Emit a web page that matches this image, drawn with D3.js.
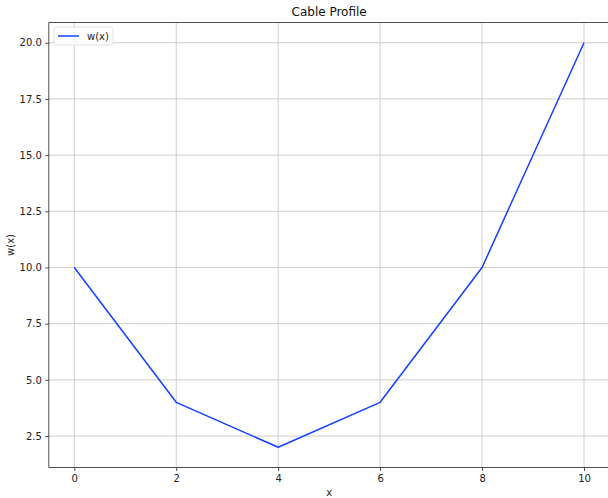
<!DOCTYPE html>
<html>
<head>
<meta charset="utf-8">
<script src="https://cdn.jsdelivr.net/npm/d3@7"></script>
<style>
  html, body { margin: 0; padding: 0; background: #fff; }
  svg { display: block; font-family: "DejaVu Sans", sans-serif; }
</style>
</head>
<body>
<svg id="chart" width="608" height="498"></svg>
<script>
// Cable deflection samples
const xValues = [0, 2, 4, 6, 8, 10];
const wValues = [10, 4, 2, 4, 10, 20];
const xTicks = [0, 2, 4, 6, 8, 10];
const yTicks = [2.5, 5.0, 7.5, 10.0, 12.5, 15.0, 17.5, 20.0];
const seriesName = "w(x)";

const svg = d3.select("#chart");
const margin = { left: 48.8, top: 22.5, right: 609.5, bottom: 467.5 };

const x = d3.scaleLinear().domain([-0.5, 10.5]).range([margin.left, margin.right]);
const y = d3.scaleLinear().domain([1.1, 20.9]).range([margin.bottom, margin.top]);

// clip region for plot contents
svg.append("defs").append("clipPath").attr("id", "plotClip")
  .append("rect")
  .attr("x", margin.left).attr("y", margin.top)
  .attr("width", margin.right - margin.left).attr("height", margin.bottom - margin.top);

const grid = svg.append("g").attr("clip-path", "url(#plotClip)");
grid.selectAll("line.vx").data(xTicks).join("line")
  .attr("x1", d => x(d)).attr("x2", d => x(d))
  .attr("y1", margin.top).attr("y2", margin.bottom)
  .attr("stroke", "#cfcfcf").attr("stroke-width", 1);
grid.selectAll("line.hy").data(yTicks).join("line")
  .attr("x1", margin.left).attr("x2", margin.right)
  .attr("y1", d => y(d)).attr("y2", d => y(d))
  .attr("stroke", "#cfcfcf").attr("stroke-width", 1);

// series line
const line = d3.line().x((d, i) => x(xValues[i])).y(d => y(d));
svg.append("path")
  .datum(wValues)
  .attr("clip-path", "url(#plotClip)")
  .attr("d", line)
  .attr("fill", "none")
  .attr("stroke", "#1440ff")
  .attr("stroke-width", 1.5)
  .attr("stroke-linejoin", "round");

// axes
const xAxis = d3.axisBottom(x).tickValues(xTicks).tickFormat(d3.format("d")).tickSize(3.5).tickPadding(3.5);
const yAxis = d3.axisLeft(y).tickValues(yTicks).tickFormat(d3.format(".1f")).tickSize(3.5).tickPadding(3.5);

const gx = svg.append("g").attr("transform", `translate(0,${margin.bottom})`).call(xAxis);
const gy = svg.append("g").attr("transform", `translate(${margin.left},0)`).call(yAxis);
[gx, gy].forEach(g => {
  g.select(".domain").remove();
  g.selectAll(".tick line").attr("stroke", "#222").attr("stroke-width", 0.8);
  g.selectAll(".tick text").attr("fill", "#222").style("font-size", "10px")
    .style("font-family", "'DejaVu Sans', sans-serif");
});

// spines
const spines = svg.append("g").attr("stroke", "#222").attr("stroke-width", 0.8).attr("fill", "none");
spines.append("line").attr("x1", margin.left).attr("x2", margin.left).attr("y1", margin.top).attr("y2", margin.bottom);
spines.append("line").attr("x1", margin.left).attr("x2", margin.right).attr("y1", margin.bottom).attr("y2", margin.bottom);
spines.append("line").attr("x1", margin.left).attr("x2", margin.right).attr("y1", margin.top).attr("y2", margin.top);
spines.append("line").attr("x1", margin.right).attr("x2", margin.right).attr("y1", margin.top).attr("y2", margin.bottom);

// title and axis labels
svg.append("text").attr("x", (margin.left + margin.right) / 2).attr("y", 16)
  .attr("text-anchor", "middle").style("font-size", "12px").attr("fill", "#111").text("Cable Profile");
svg.append("text").attr("x", (margin.left + margin.right) / 2).attr("y", 496)
  .attr("text-anchor", "middle").style("font-size", "10px").attr("fill", "#222").text("x");
svg.append("text").attr("transform", `translate(14,${(margin.top + margin.bottom) / 2}) rotate(-90)`)
  .attr("text-anchor", "middle").style("font-size", "10px").attr("fill", "#222").text("w(x)");

// legend
const lg = svg.append("g").attr("transform", `translate(${margin.left + 5.2},${margin.top + 4.5})`);
lg.append("rect").attr("width", 59).attr("height", 18).attr("rx", 2)
  .attr("fill", "#fff").attr("fill-opacity", 0.8).attr("stroke", "#ddd").attr("stroke-width", 0.8);
lg.append("line").attr("x1", 4).attr("x2", 25).attr("y1", 9).attr("y2", 9)
  .attr("stroke", "#1440ff").attr("stroke-width", 1.5);
lg.append("text").attr("x", 33).attr("y", 12.5).style("font-size", "10px").attr("fill", "#222").text(seriesName);
</script>
</body>
</html>
